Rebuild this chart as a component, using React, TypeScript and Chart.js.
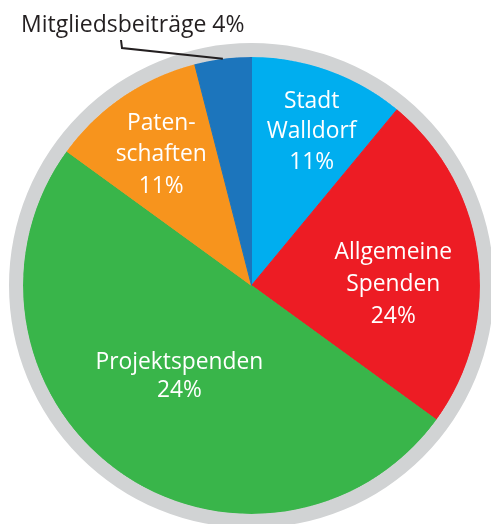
import React, { useEffect, useRef } from "react";
import { Chart, registerables } from "chart.js";

Chart.register(...registerables);

// ---- data ----
const categories = [
  "Stadt Walldorf",
  "Allgemeine Spenden",
  "Projektspenden",
  "Patenschaften",
  "Mitgliedsbeiträge",
];
const shares = [11, 24, 50, 11, 4];
const labelLines = [
  ["Stadt", "Walldorf", "11%"],
  ["Allgemeine", "Spenden", "24%"],
  ["Projektspenden", "24%"],
  ["Paten-", "schaften", "11%"],
  ["Mitgliedsbeiträge 4%"],
];
const sliceColors = ["#00AEEF", "#ED1C24", "#39B54A", "#F7941D", "#1C75BC"];

// ---- label placement (style) ----
const labelRadius = [0.696, 0.621, 0.532, 0.672];
const labelAngleShiftDeg = [2.4, 9.4, 0.4, -1.8];
const labelLineHeight = [30.5, 32, 28, 31.5];
const FONT = '"Open Sans", "DejaVu Sans", sans-serif';

const labelPlugin = {
  id: "sliceLabels",
  afterDatasetsDraw(chart: any) {
    const meta = chart.getDatasetMeta(1);
    const ctx = chart.ctx as CanvasRenderingContext2D;
    ctx.save();
    ctx.font = `22.8px ${FONT}`;
    ctx.textAlign = "center";
    ctx.textBaseline = "alphabetic";
    ctx.fillStyle = "#FFFFFF";
    for (let i = 0; i < 4; i++) {
      const arc = meta.data[i];
      const p = arc.getProps(["x", "y", "startAngle", "endAngle", "outerRadius"], true);
      const a = (p.startAngle + p.endAngle) / 2 + (labelAngleShiftDeg[i] * Math.PI) / 180;
      const r = p.outerRadius * labelRadius[i];
      const cx = p.x + r * Math.cos(a);
      const cy = p.y + r * Math.sin(a);
      const lines = labelLines[i];
      const lh = labelLineHeight[i];
      const y0 = cy - ((lines.length - 1) * lh) / 2;
      lines.forEach((t, k) => ctx.fillText(t, cx, y0 + k * lh));
    }
    // outside label with leader line
    const arc = meta.data[4];
    const p = arc.getProps(["x", "y", "startAngle", "endAngle", "outerRadius"], true);
    const a = (p.startAngle + p.endAngle) / 2;
    const ex = p.x + p.outerRadius * Math.cos(a);
    const ey = p.y + p.outerRadius * Math.sin(a);
    ctx.strokeStyle = "#231F20";
    ctx.lineWidth = 2;
    ctx.beginPath();
    ctx.moveTo(121, 40);
    ctx.lineTo(122, 48);
    ctx.lineTo(ex, ey);
    ctx.stroke();
    ctx.fillStyle = "#231F20";
    ctx.textAlign = "left";
    ctx.font = `23px ${FONT}`;
    ctx.fillText(labelLines[4][0], 21, 32);
    ctx.restore();
  },
};

export default function App() {
  const canvasRef = useRef<HTMLCanvasElement | null>(null);

  useEffect(() => {
    if (!canvasRef.current) return;
    const chart = new Chart(canvasRef.current, {
      type: "pie",
      data: {
        labels: categories,
        datasets: [
          {
            data: [1],
            backgroundColor: ["#D1D3D4"],
            borderWidth: 0,
            hoverOffset: 0,
            weight: 14,
          } as any,
          {
            data: shares,
            backgroundColor: sliceColors,
            borderColor: sliceColors,
            borderWidth: 1,
            hoverBorderWidth: 1,
            hoverOffset: 0,
            weight: 228,
          } as any,
        ],
      },
      options: {
        animation: false,
        responsive: true,
        maintainAspectRatio: false,
        layout: { padding: { left: 9, top: 43, right: 0, bottom: 0 } },
        plugins: {
          legend: { display: false },
          tooltip: { enabled: false },
        },
        events: [],
      },
      plugins: [labelPlugin],
    });
    return () => chart.destroy();
  }, []);

  return (
    <div
      style={{
        position: "fixed",
        left: 0,
        top: 0,
        width: 491,
        height: 524,
        overflow: "hidden",
        background: "#FFFFFF",
      }}
    >
      <div style={{ position: "absolute", left: 0, top: 0, width: 494, height: 528 }}>
        <canvas ref={canvasRef} />
      </div>
    </div>
  );
}
